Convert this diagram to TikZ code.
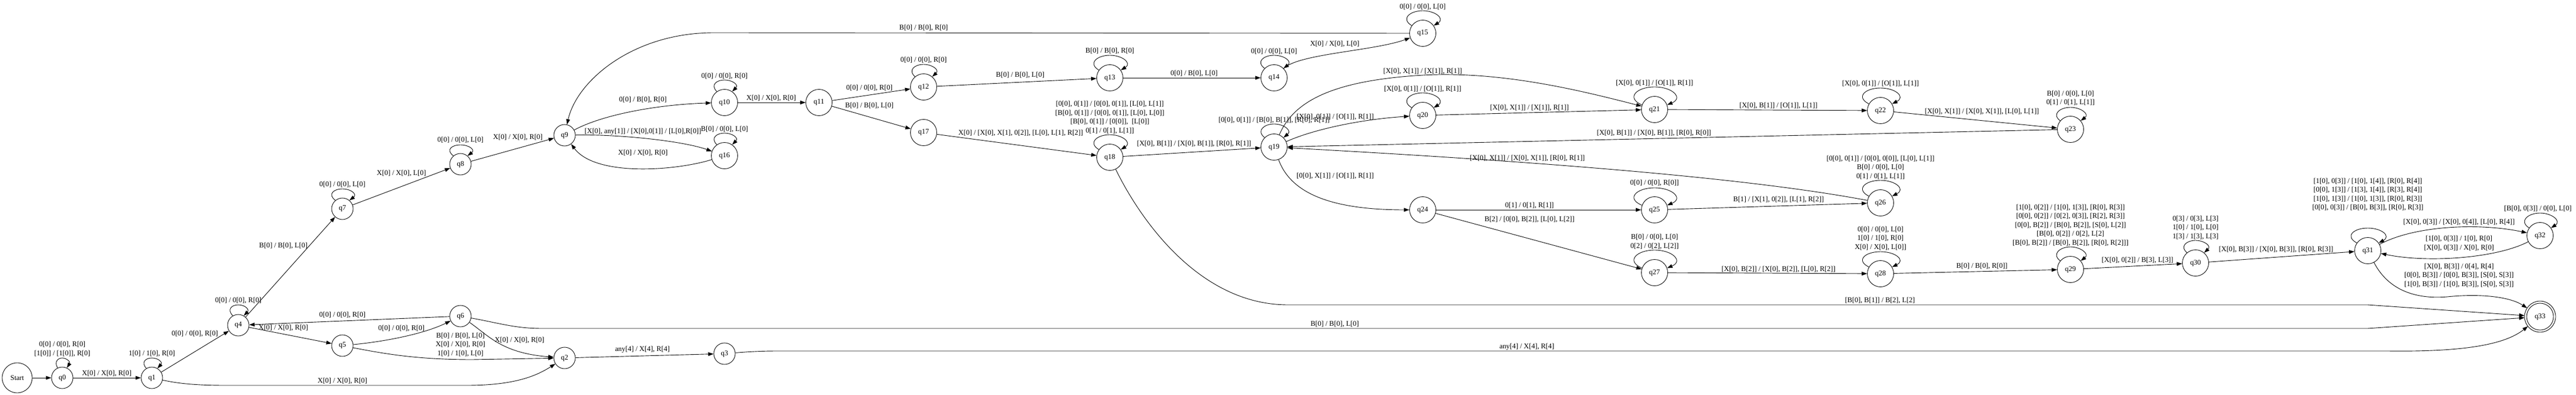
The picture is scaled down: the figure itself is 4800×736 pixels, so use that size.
\documentclass[tikz,border=0pt]{standalone}
\usepackage{fontspec}
\setmainfont{Liberation Serif}
\usetikzlibrary{arrows.meta,calc}
\newcommand{\mkloop}[5]{\draw[tr] (#1.#2) .. controls +(-0.7*#4,-0.3*#5) and +(-0.8*#4,0) .. ($(#1.center)+(0,-#5)$) .. controls +(0.8*#4,0) and +(0.7*#4,-0.3*#5) .. (#1.#3);}
\begin{document}
\begin{tikzpicture}[x=1pt,y=-1pt,
  every node/.style={font=\fontsize{13.4}{16.5}\selectfont},
  st/.style={draw, circle, line width=0.9pt, inner sep=0pt, minimum size=40pt},
  stw/.style={st, minimum size=49pt},
  lbl/.style={inner sep=0pt, align=center},
  tr/.style={line width=0.9pt, -{Triangle[length=10pt,width=7pt]}}]
\fill[white] (0,0) rectangle (4800,736);
\useasboundingbox (0,0) rectangle (4800,736);
% states
\node[st, minimum size=56pt] (start) at (32,704) {Start};
\node[st] (q0) at (116,704) {q0};
\node[st] (q1) at (283,704) {q1};
\node[st] (q4) at (444,606) {q4};
\node[st] (q7) at (638,389) {q7};
\node[st] (q5) at (638,644) {q5};
\node[st] (q8) at (858,306) {q8};
\node[st] (q6) at (858,589) {q6};
\node[st] (q9) at (1052,252) {q9};
\node[st] (q2) at (1052,667) {q2};
\node[stw] (q10) at (1350,191) {q10};
\node[stw] (q16) at (1350,290) {q16};
\node[st] (q3) at (1350,659) {q3};
\node[stw] (q11) at (1526,191) {q11};
\node[stw] (q12) at (1721,162) {q12};
\node[stw] (q17) at (1721,247) {q17};
\node[stw] (q13) at (2068,145) {q13};
\node[stw] (q18) at (2068,293) {q18};
\node[stw] (q14) at (2374,145) {q14};
\node[stw] (q19) at (2374,274) {q19};
\node[stw] (q15) at (2651,62) {q15};
\node[stw] (q20) at (2651,215) {q20};
\node[stw] (q24) at (2651,391) {q24};
\node[stw] (q21) at (3083,204) {q21};
\node[stw] (q25) at (3083,391) {q25};
\node[stw] (q27) at (3083,508) {q27};
\node[stw] (q22) at (3504,206) {q22};
\node[stw] (q26) at (3504,378) {q26};
\node[stw] (q28) at (3504,510) {q28};
\node[stw] (q23) at (3858,241) {q23};
\node[stw] (q29) at (3858,502) {q29};
\node[stw] (q30) at (4091,490) {q30};
\node[stw] (q31) at (4412,467) {q31};
\node[stw] (q32) at (4733,439) {q32};
\node[stw, minimum size=50pt, outer sep=4pt] (q33) at (4733,590) {q33};
\draw[line width=0.9pt] (q33.center) circle[radius=29pt];
% self loops
\mkloop{q0}{115}{65}{10}{37}
\mkloop{q1}{120}{60}{15}{37}
\mkloop{q4}{120}{60}{16}{38}
\mkloop{q7}{130}{50}{21}{37}
\mkloop{q8}{130}{50}{21}{36}
\mkloop{q10}{125}{55}{18}{42}
\mkloop{q16}{125}{55}{18}{42}
\mkloop{q12}{130}{50}{20}{42}
\mkloop{q13}{145}{35}{30}{42}
\mkloop{q14}{135}{45}{24}{42}
\mkloop{q15}{145}{35}{30}{42}
\mkloop{q18}{145}{35}{30}{42}
\mkloop{q19}{135}{45}{23}{43}
\mkloop{q20}{145}{35}{30}{42}
\mkloop{q21}{160}{20}{43}{42}
\mkloop{q22}{150}{30}{36}{42}
\mkloop{q23}{140}{40}{24}{41}
\mkloop{q25}{160}{20}{43}{41}
\mkloop{q26}{150}{30}{36}{42}
\mkloop{q27}{160}{20}{43}{42}
\mkloop{q28}{150}{30}{36}{41}
\mkloop{q29}{140}{40}{24}{42}
\mkloop{q30}{130}{50}{20}{42}
\mkloop{q31}{145}{35}{33}{42}
\mkloop{q32}{145}{35}{28}{42}
% edges
\draw[tr] (start) -- (q0);
\draw[tr] (q0) -- (q1);
\draw[tr] (q1) -- (q4);
\draw[tr] (q1) .. controls (330,714) and (360,718) .. (420,718) -- (870,718) .. controls (960,718) and (1000,700) .. (q2);
\draw[tr] (q4) -- (q7);
\draw[tr] (q6) -- (q4);
\draw[tr] (q4) -- (q5);
\draw[tr] (q5) .. controls (720,636) and (790,622) .. (q6);
\draw[tr] (q5) .. controls (720,660) and (780,670) .. (880,670) -- (q2);
\draw[tr] (q6) .. controls (910,625) and (935,658) .. (q2);
\draw[tr] (q6) .. controls (930,602) and (960,612) .. (1010,612) -- (4412,612) -- (q33);
\draw[tr] (q2) -- (q3);
\draw[tr] (q3) .. controls (1400,655) and (1420,654) .. (1450,654) -- (4450,654) .. controls (4600,656) and (4670,640) .. (q33);
\draw[tr] (q7) -- (q8);
\draw[tr] (q8) -- (q9);
\draw[tr] (q9) .. controls (1120,215) and (1220,195) .. (q10);
\draw[tr] (q9) .. controls (1150,250) and (1270,262) .. (q16);
\draw[tr] (q16) .. controls (1260,318) and (1110,330) .. (q9);
\draw[tr] (q10) -- (q11);
\draw[tr] (q11) -- (q12);
\draw[tr] (q11) -- (q17);
\draw[tr] (q12) -- (q13);
\draw[tr] (q13) -- (q14);
\draw[tr] (q14) .. controls (2420,100) and (2560,95) .. (q15);
\draw[tr] (q15) -- (1330,61) .. controls (1180,61) and (1075,150) .. (q9);
\draw[tr] (q17) -- (q18);
\draw[tr] (q18) -- (q19);
\draw[tr] (q18) .. controls (2120,400) and (2230,568) .. (2400,568) -- (4412,568) -- (q33);
\draw[tr] (q19) .. controls (2450,240) and (2540,222) .. (q20);
\draw[tr] (q19) .. controls (2410,190) and (2480,150) .. (2652,140) .. controls (2800,132) and (2950,170) .. (q21);
\draw[tr] (q19) .. controls (2405,360) and (2480,391) .. (q24);
\draw[tr] (q20) -- (q21);
\draw[tr] (q21) -- (q22);
\draw[tr] (q22) -- (q23);
\draw[tr] (q23) -- (q19);
\draw[tr] (q24) -- (q25);
\draw[tr] (q24) -- (q27);
\draw[tr] (q25) -- (q26);
\draw[tr] (q26) .. controls (3250,330) and (2850,300) .. (q19);
\draw[tr] (q27) -- (q28);
\draw[tr] (q28) -- (q29);
\draw[tr] (q29) -- (q30);
\draw[tr] (q30) -- (q31);
\draw[tr] (q31) .. controls (4500,420) and (4620,415) .. (q32);
\draw[tr] (q32) .. controls (4650,482) and (4520,490) .. (q31);
\draw[tr] (q31) .. controls (4450,540) and (4500,558) .. (4560,553) .. controls (4630,546) and (4680,555) .. (q33);
% labels
\node[lbl] (l1) at (116,650.5) {0[0] / 0[0], R[0]\\{}[1[0]] / [1[0]], R[0]};
\node[lbl] (l2) at (199,696) {X[0] / X[0], R[0]};
\node[lbl] (l3) at (283,659) {1[0] / 1[0], R[0]};
\node[lbl] (l4) at (363,622) {0[0] / 0[0], R[0]};
\node[lbl] (l5) at (638,710) {X[0] / X[0], R[0]};
\node[lbl] (l6) at (444,560) {0[0] / 0[0], R[0]};
\node[lbl] (l7) at (528,458) {B[0] / B[0], L[0]};
\node[lbl] (l8) at (638,587) {0[0] / 0[0], R[0]};
\node[lbl] (l9) at (528,611) {X[0] / X[0], R[0]};
\node[lbl] (l10) at (748,612) {0[0] / 0[0], R[0]};
\node[lbl] (l11) at (858,642) {B[0] / B[0], L[0]\\X[0] / X[0], R[0]\\1[0] / 1[0], L[0]};
\node[lbl] (l12) at (968,634) {X[0] / X[0], R[0]};
\node[lbl] (l13) at (2487,604) {B[0] / B[0], L[0]};
\node[lbl] (l14) at (1197,651) {any[4] / X[4], R[4]};
\node[lbl] (l15) at (2845,646) {any[4] / X[4], R[4]};
\node[lbl] (l16) at (638,344) {0[0] / 0[0], L[0]};
\node[lbl] (l17) at (748,323) {X[0] / X[0], L[0]};
\node[lbl] (l18) at (858,261) {0[0] / 0[0], L[0]};
\node[lbl] (l19) at (965,256) {X[0] / X[0], R[0]};
\node[lbl] (l20) at (1198,186) {0[0] / B[0], R[0]};
\node[lbl] (l21) at (1350,142) {0[0] / 0[0], R[0]};
\node[lbl] (l22) at (1437,183) {X[0] / X[0], R[0]};
\node[lbl] (l23) at (1198,245) {[X[0], any[1]] / [X[0],0[1]] / [L[0],R[0]]};
\node[lbl] (l24) at (1350,241) {B[0] / 0[0], L[0]};
\node[lbl] (l25) at (1198,285) {X[0] / X[0], R[0]};
\node[lbl] (l26) at (1721,52) {B[0] / B[0], R[0]};
\node[lbl] (l27) at (1620,164) {0[0] / 0[0], R[0]};
\node[lbl] (l28) at (1620,197) {B[0] / B[0], L[0]};
\node[lbl] (l29) at (1721,112) {0[0] / 0[0], R[0]};
\node[lbl] (l30) at (1901,140) {B[0] / B[0], L[0]};
\node[lbl] (l31) at (2068,95) {B[0] / B[0], R[0]};
\node[lbl] (l32) at (2225,137) {0[0] / B[0], L[0]};
\node[lbl] (l33) at (2374,96) {0[0] / 0[0], L[0]};
\node[lbl] (l34) at (2487,82) {X[0] / X[0], L[0]};
\node[lbl] (l35) at (2651,13) {0[0] / 0[0], L[0]};
\node[lbl] (l36) at (1902,248) {X[0] / [X[0], X[1], 0[2]], [L[0], L[1], R[2]]};
\node[lbl] (l37) at (2068,219) {[0[0], 0[1]] / [0[0], 0[1]], [L[0], L[1]]\\{}[B[0], 0[1]] / [0[0], 0[1]], [L[0], L[0]]\\{}[B[0], 0[1]] / [0[0]],\ \ [L[0]]\\0[1] / 0[1], L[1]]};
\node[lbl] (l38) at (2225,268) {[X[0], B[1]] / [X[0], B[1]], [R[0], R[1]]};
\node[lbl] (l39) at (3503,560) {[B[0], B[1]] / B[2], L[2]};
\node[lbl] (l40) at (2374,224) {[0[0], 0[1]] / [B[0], B[1]], [R[0], R[1]]};
\node[lbl] (l41) at (2488,218) {[X[0], 0[1]] / [O[1]], R[1]]};
\node[lbl] (l42) at (2651,133) {[X[0], X[1]] / [X[1]], R[1]]};
\node[lbl] (l43) at (2651,166) {[X[0], 0[1]] / [O[1]], R[1]]};
\node[lbl] (l44) at (2850,201) {[X[0], X[1]] / [X[1]], R[1]]};
\node[lbl] (l45) at (3083,155) {[X[0], 0[1]] / [O[1]], R[1]]};
\node[lbl] (l46) at (3314,197) {[X[0], B[1]] / [O[1]], L[1]]};
\node[lbl] (l47) at (3504,156) {[X[0], 0[1]] / [O[1]], L[1]]};
\node[lbl] (l48) at (3693,208) {[X[0], X[1]] / [X[0], X[1]], [L[0], L[1]]};
\node[lbl] (l49) at (3858,183) {B[0] / 0[0], L[0]\\0[1] / 0[1], L[1]]};
\node[lbl] (l50) at (3082,248) {[X[0], B[1]] / [X[0], B[1]], [R[0], R[0]]};
\node[lbl] (l51) at (2488,328) {[0[0], X[1]] / [O[1]], R[1]]};
\node[lbl] (l52) at (2850,383) {0[1] / 0[1], R[1]]};
\node[lbl] (l53) at (2850,409) {B[2] / [0[0], B[2]], [L[0], L[2]]};
\node[lbl] (l54) at (3083,341) {0[0] / 0[0], R[0]]};
\node[lbl] (l55) at (3314,372) {B[1] / [X[1], 0[2]], [L[1], R[2]]};
\node[lbl] (l56) at (3504,312) {[0[0], 0[1]] / [0[0], 0[0]], [L[0], L[1]]\\B[0] / 0[0], L[0]\\0[1] / 0[1], L[1]]};
\node[lbl] (l57) at (2846,295) {[X[0], X[1]] / [X[0], X[1]], [R[0], R[1]]};
\node[lbl] (l58) at (3083,450.5) {B[0] / 0[0], L[0]\\0[2] / 0[2], L[2]]};
\node[lbl] (l59) at (3314,502) {[X[0], B[2]] / [X[0], B[2]], [L[0], R[2]]};
\node[lbl] (l60) at (3504,444) {0[0] / 0[0], L[0]\\1[0] / 1[0], R[0]\\X[0] / X[0], L[0]]};
\node[lbl] (l61) at (3693,496) {B[0] / B[0], R[0]]};
\node[lbl] (l62) at (3858,419.5) {[1[0], 0[2]] / [1[0], 1[3]], [R[0], R[3]]\\{}[0[0], 0[2]] / [0[2], 0[3]], [R[2], R[3]]\\{}[0[0], B[2]] / [B[0], B[2]], [S[0], L[2]]\\{}[B[0], 0[2]] / 0[2], L[2]\\{}[B[0], B[2]] / [B[0], B[2]], [R[0], R[2]]]};
\node[lbl] (l63) at (3983,485) {[X[0], 0[2]] / B[3], L[3]]};
\node[lbl] (l64) at (4091,424) {0[3] / 0[3], L[3]\\1[0] / 1[0], L[0]\\1[3] / 1[3], L[3]};
\node[lbl] (l65) at (4241,465) {[X[0], B[3]] / [X[0], B[3]], [R[0], R[3]]};
\node[lbl] (l66) at (4412,362.5) {[1[0], 0[3]] / [1[0], 1[4]], [R[0], R[4]]\\{}[0[0], 1[3]] / [1[3], 1[4]], [R[3], R[4]]\\{}[1[0], 1[3]] / [1[0], 1[3]], [R[0], R[3]]\\{}[0[0], 0[3]] / [B[0], B[3]], [R[0], R[3]]};
\node[lbl] (l67) at (4582,414) {[X[0], 0[3]] / [X[0], 0[4]], [L[0], R[4]]};
\node[lbl] (l68) at (4582,453.5) {[1[0], 0[3]] / 1[0], R[0]\\{}[X[0], 0[3]] / X[0], R[0]};
\node[lbl] (l69) at (4729,389) {[B[0], 0[3]] / 0[0], L[0]};
\node[lbl] (l70) at (4582,513) {[X[0], B[3]] / 0[4], R[4]\\{}[0[0], B[3]] / [0[0], B[3]], [S[0], S[3]]\\{}[1[0], B[3]] / [1[0], B[3]], [S[0], S[3]]};
\end{tikzpicture}
\end{document}
